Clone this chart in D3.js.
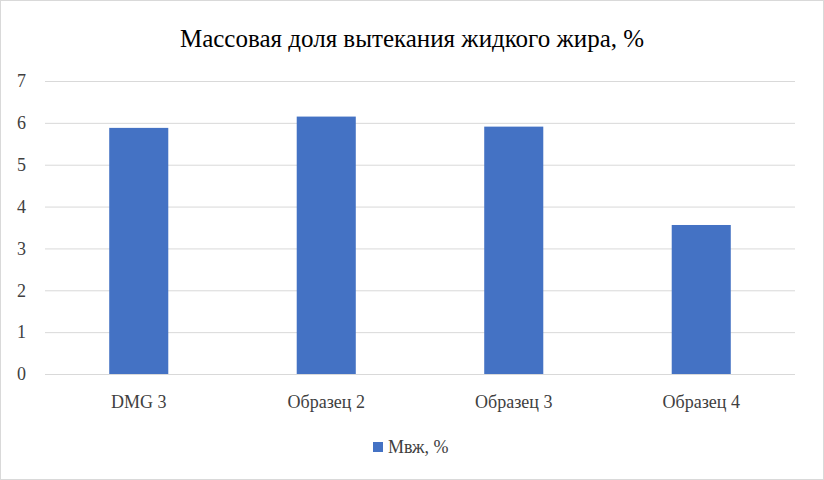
<!DOCTYPE html>
<html>
<head>
<meta charset="utf-8">
<script src="https://cdn.jsdelivr.net/npm/d3@7"></script>
<style>
  body { margin: 0; background: #fff; }
  text { font-family: "Liberation Serif", "Times New Roman", serif; fill: #404040; }
</style>
</head>
<body>
<div id="chart"></div>
<script>
const categories = ['DMG 3', 'Образец 2', 'Образец 3', 'Образец 4'];
const values = [5.88, 6.15, 5.91, 3.56];
const yTicks = [0, 1, 2, 3, 4, 5, 6, 7];
const seriesName = 'Мвж, %';
const title = 'Массовая доля вытекания жидкого жира, %';

const width = 824, height = 480;
const margin = { top: 81, right: 29, bottom: 106, left: 45 };

const svg = d3.select('#chart').append('svg')
  .attr('width', width)
  .attr('height', height);

svg.append('rect')
  .attr('x', 0.5).attr('y', 0.5)
  .attr('width', width - 1).attr('height', height - 1)
  .attr('fill', '#fff').attr('stroke', '#d9d9d9');

const x = d3.scaleBand()
  .domain(categories)
  .range([margin.left, width - margin.right])
  .paddingInner(0.685)
  .paddingOuter(0.3425);

const y = d3.scaleLinear()
  .domain([0, 7])
  .range([height - margin.bottom, margin.top]);

/* gridlines */
svg.append('g')
  .selectAll('line')
  .data(yTicks)
  .join('line')
  .attr('x1', margin.left).attr('x2', width - margin.right)
  .attr('y1', (d) => y(d) + 0.5).attr('y2', (d) => y(d) + 0.5)
  .attr('stroke', (d) => (d === 0 ? '#d9d9d9' : '#d9d9d9'));

/* y tick labels */
svg.append('g')
  .selectAll('text')
  .data(yTicks)
  .join('text')
  .attr('x', 26).attr('y', (d) => y(d))
  .attr('dy', '0.35em')
  .attr('text-anchor', 'end')
  .attr('font-size', 18)
  .text((d) => d);

/* bars */
svg.append('g')
  .selectAll('rect')
  .data(values)
  .join('rect')
  .attr('x', (d, i) => x(categories[i]))
  .attr('y', (d) => y(d))
  .attr('width', x.bandwidth())
  .attr('height', (d) => y(0) - y(d))
  .attr('fill', '#4472c4');

/* x labels */
svg.append('g')
  .selectAll('text')
  .data(categories)
  .join('text')
  .attr('x', (d) => x(d) + x.bandwidth() / 2)
  .attr('y', 408)
  .attr('text-anchor', 'middle')
  .attr('font-size', 18)
  .text((d) => d);

/* title */
svg.append('text')
  .attr('x', width / 2).attr('y', 47)
  .attr('text-anchor', 'middle')
  .attr('font-size', 25)
  .style('fill', '#000')
  .text(title);

/* legend */
const legend = svg.append('g').attr('transform', 'translate(373, 442)');
legend.append('rect')
  .attr('width', 10).attr('height', 10)
  .attr('fill', '#4472c4');
legend.append('text')
  .attr('x', 15).attr('y', 5)
  .attr('dy', '0.35em')
  .attr('font-size', 18)
  .text(seriesName);
</script>
</body>
</html>
